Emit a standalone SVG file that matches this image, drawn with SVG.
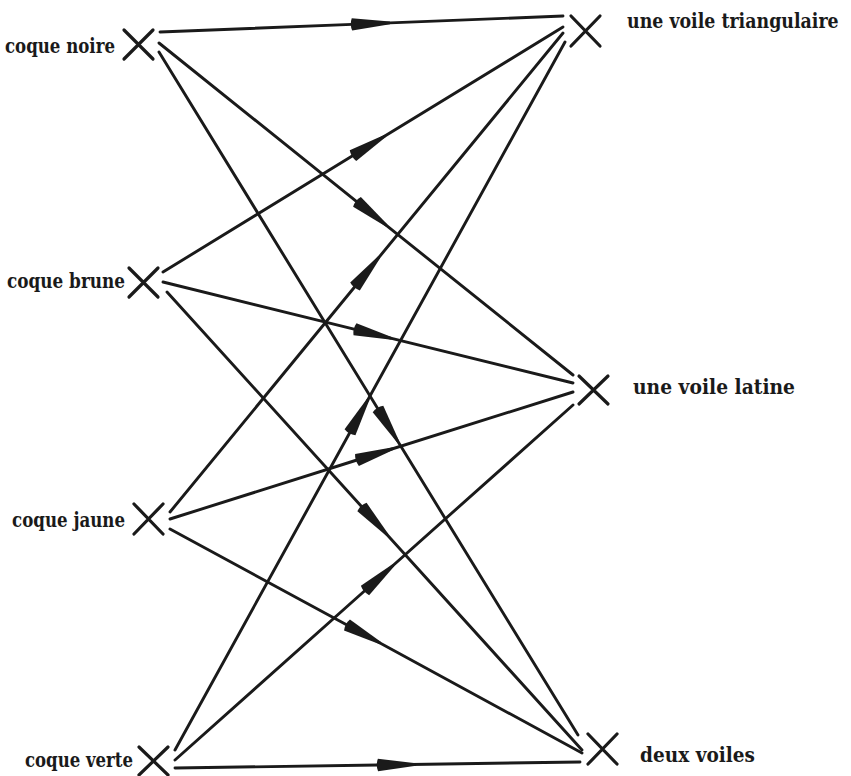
<svg xmlns="http://www.w3.org/2000/svg" width="851" height="776" viewBox="0 0 851 776">
<style>
.bg{fill:#ffffff}
.edge{fill:none;stroke:#1a1a1a;stroke-width:2.9;stroke-linecap:round;marker-mid:url(#arr)}
.x{fill:none;stroke:#1a1a1a;stroke-width:3.2;stroke-linecap:round}
.lbl{font-family:"DejaVu Serif","Liberation Serif",serif;font-size:21px;font-weight:bold;fill:#1a1a1a}
</style>
<defs>
<marker id="arr" markerUnits="userSpaceOnUse" viewBox="-5 -8 50 16" markerWidth="50" markerHeight="16" refX="0" refY="0" orient="auto" overflow="visible">
<path d="M0,-6.2 L38,-1.3 L38,1.3 L0,6.2 Q-2.5,0 0,-6.2 Z" fill="#1a1a1a"/>
</marker>
</defs>
<rect class="bg" x="0" y="0" width="851" height="776"/>
<g id="connectors">
<polyline class="edge" points="160,32 352,24.4 563,16"/>
<polyline class="edge" points="163,272 353,155.6 563,27"/>
<polyline class="edge" points="159,43 357,201.8 573,375"/>
<polyline class="edge" points="170,512 355,286.5 563,33"/>
<polyline class="edge" points="163,282 355,329.3 573,383"/>
<polyline class="edge" points="175,750 350,432.3 565,42"/>
<polyline class="edge" points="159,52 378,409 578,735"/>
<polyline class="edge" points="170,519 357,460 573,392"/>
<polyline class="edge" points="167,292 362,507 582,750"/>
<polyline class="edge" points="175,760 365,590.5 573,405"/>
<polyline class="edge" points="170,529 347,625 582,753"/>
<polyline class="edge" points="175,768 378,765 580,762"/>
</g>
<g id="coque-noire">
<path class="x" d="M124,30 L153,59 M153,30 L124,59"/>
<text class="lbl" x="5" y="53" textLength="110" lengthAdjust="spacingAndGlyphs">coque noire</text>
</g>
<g id="coque-brune">
<path class="x" d="M129,268 L158,297 M158,268 L129,297"/>
<text class="lbl" x="7" y="288" textLength="118" lengthAdjust="spacingAndGlyphs">coque brune</text>
</g>
<g id="coque-jaune">
<path class="x" d="M134,504 L163,534 M163,504 L134,534"/>
<text class="lbl" x="12" y="527" textLength="113" lengthAdjust="spacingAndGlyphs">coque jaune</text>
</g>
<g id="coque-verte">
<path class="x" d="M139,747 L168,775 M168,747 L139,775"/>
<text class="lbl" x="25" y="767" textLength="108" lengthAdjust="spacingAndGlyphs">coque verte</text>
</g>
<g id="voile-triangulaire">
<path class="x" d="M571,16 L600,46 M600,16 L571,46"/>
<text class="lbl" transform="translate(627,28) scale(0.83,1)" x="0" y="0" textLength="255" lengthAdjust="spacingAndGlyphs">une voile triangulaire</text>
</g>
<g id="voile-latine">
<path class="x" d="M579,376 L608,404 M608,376 L579,404"/>
<text class="lbl" x="633" y="394" textLength="162" lengthAdjust="spacingAndGlyphs">une voile latine</text>
</g>
<g id="deux-voiles">
<path class="x" d="M588,734 L617,764 M617,734 L588,764"/>
<text class="lbl" x="640" y="762" textLength="115" lengthAdjust="spacingAndGlyphs">deux voiles</text>
</g>
</svg>
